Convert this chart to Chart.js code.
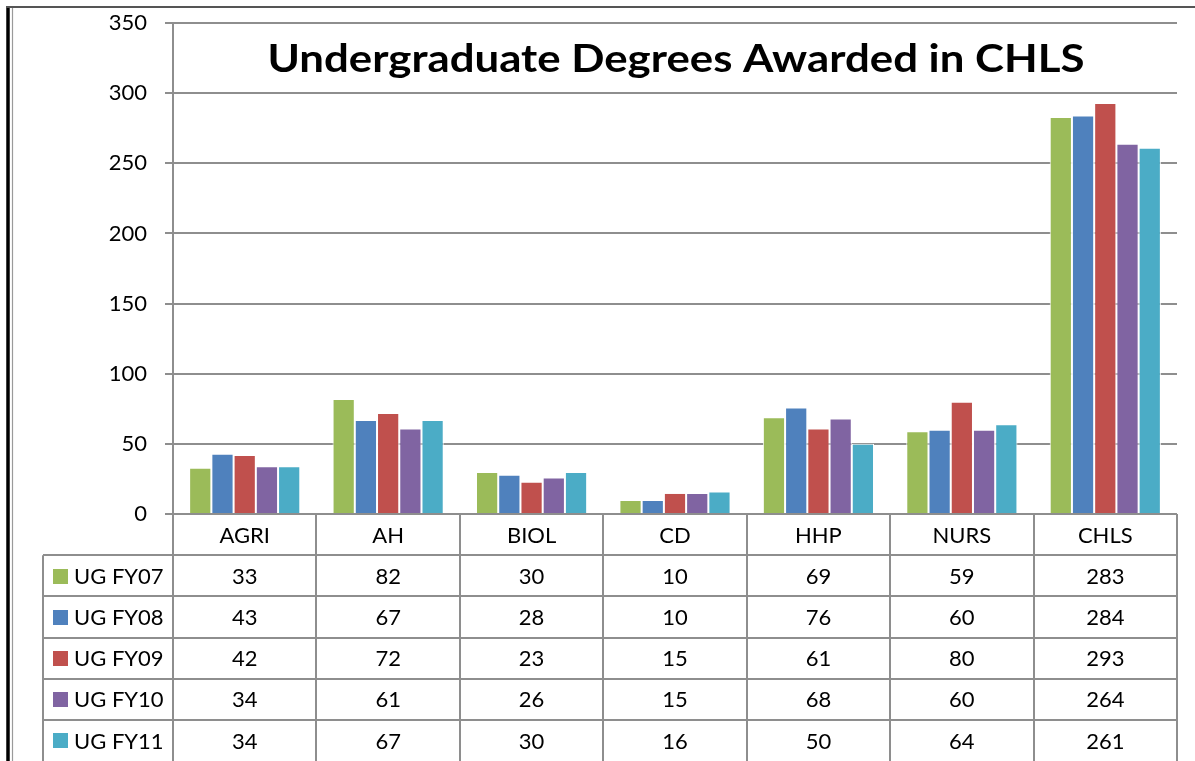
<!DOCTYPE html>
<html>
<head>
<meta charset="utf-8">
<script src="https://cdn.jsdelivr.net/npm/chart.js@4/dist/chart.umd.min.js"></script>
<style>
  html, body { margin: 0; padding: 0; background: #ffffff; }
  #wrap { width: 1195px; height: 761px; position: relative; }
  canvas { display: block; }
</style>
</head>
<body>
<div id="wrap"><canvas id="c" width="1195" height="761"></canvas></div>
<script>
const chartTitle = "Undergraduate Degrees Awarded in CHLS";
const categories = ["AGRI", "AH", "BIOL", "CD", "HHP", "NURS", "CHLS"];
const seriesNames = ["UG FY07", "UG FY08", "UG FY09", "UG FY10", "UG FY11"];
const fy07 = [33, 82, 30, 10, 69, 59, 283];
const fy08 = [43, 67, 28, 10, 76, 60, 284];
const fy09 = [42, 72, 23, 15, 61, 80, 293];
const fy10 = [34, 61, 26, 15, 68, 60, 264];
const fy11 = [34, 67, 30, 16, 50, 64, 261];
const seriesValues = [fy07, fy08, fy09, fy10, fy11];
const seriesColors = ["#9BBB59", "#4F81BD", "#C0504D", "#8064A2", "#4BACC6"];
const yMin = 0, yMax = 350, yStep = 50;

const FONT = "Lato, 'Open Sans', sans-serif";
const TITLE_FONT = "bold 39px Lato, 'Open Sans', sans-serif";
const TITLE_WIDTH = 817;
const GRID = "#8e8e8e";

const framePlugin = {
  id: 'frame',
  beforeDraw(chart) {
    const ctx = chart.ctx;
    ctx.save();
    ctx.fillStyle = '#ffffff';
    ctx.fillRect(0, 0, chart.width, chart.height);
    ctx.restore();
  },
  afterDraw(chart) {
    const ctx = chart.ctx;
    const ca = chart.chartArea;
    const xs = chart.scales.x;
    const H = chart.height;
    ctx.save();
    // outer frame
    ctx.strokeStyle = '#000000';
    ctx.lineWidth = 3.5;
    ctx.beginPath(); ctx.moveTo(8, 6); ctx.lineTo(8, H); ctx.stroke();
    ctx.strokeStyle = '#9a9a9a';
    ctx.lineWidth = 1.2;
    ctx.beginPath(); ctx.moveTo(12.5, 8); ctx.lineTo(12.5, H); ctx.stroke();
    ctx.strokeStyle = '#555555';
    ctx.lineWidth = 2;
    ctx.beginPath(); ctx.moveTo(6, 7); ctx.lineTo(chart.width, 7); ctx.stroke();

    // title (horizontally stretched like the reference)
    ctx.save();
    ctx.fillStyle = '#000000';
    ctx.font = TITLE_FONT;
    ctx.textAlign = 'center';
    ctx.textBaseline = 'alphabetic';
    const tw = ctx.measureText(chartTitle).width;
    const sx = TITLE_WIDTH / tw;
    ctx.translate((ca.left + ca.right) / 2 + 1, 72);
    ctx.scale(sx, 1);
    ctx.fillText(chartTitle, 0, 0);
    ctx.restore();

    // data table
    const n = categories.length;
    const catW = (ca.right - ca.left) / n;
    const rowH = (H - ca.bottom) / (seriesNames.length + 1);
    const legLeft = 43;
    ctx.strokeStyle = GRID;
    ctx.lineWidth = 2;
    for (let r = 1; r <= seriesNames.length; r++) {
      const y = Math.round(ca.bottom + r * rowH);
      ctx.beginPath(); ctx.moveTo(legLeft, y); ctx.lineTo(ca.right, y); ctx.stroke();
    }
    for (let i = 0; i <= n; i++) {
      const x = Math.round(xs.getPixelForValue(0) - catW / 2 + i * catW);
      ctx.beginPath(); ctx.moveTo(x, ca.bottom); ctx.lineTo(x, H); ctx.stroke();
    }
    ctx.beginPath(); ctx.moveTo(legLeft, ca.bottom + rowH); ctx.lineTo(legLeft, H); ctx.stroke();

    ctx.font = "22px " + FONT;
    ctx.fillStyle = '#000000';
    ctx.textAlign = 'center';
    ctx.textBaseline = 'middle';
    categories.forEach((c, i) => {
      ctx.fillText(c, xs.getPixelForValue(i), ca.bottom + rowH / 2 + 1);
    });
    seriesNames.forEach((s, r) => {
      const cy = ca.bottom + (r + 1.5) * rowH + 1;
      ctx.fillStyle = seriesColors[r];
      ctx.fillRect(53, Math.round(cy - 8), 15, 15);
      ctx.fillStyle = '#000000';
      ctx.textAlign = 'left';
      ctx.fillText(s, 74, cy);
      ctx.textAlign = 'center';
      seriesValues[r].forEach((v, i) => {
        ctx.fillText(String(v), xs.getPixelForValue(i), cy);
      });
    });
    ctx.restore();
  }
};

new Chart(document.getElementById('c'), {
  type: 'bar',
  data: {
    labels: categories,
    datasets: seriesNames.map((name, i) => ({
      label: name,
      data: seriesValues[i],
      backgroundColor: seriesColors[i],
      borderColor: '#ffffff',
      borderWidth: 1,
      categoryPercentage: 0.775,
      barPercentage: 1.0
    }))
  },
  options: {
    responsive: false,
    animation: false,
    devicePixelRatio: 1,
    layout: { padding: { left: 0, top: 23, right: 18, bottom: 247 } },
    plugins: { legend: { display: false }, title: { display: false }, tooltip: { enabled: false } },
    scales: {
      x: {
        grid: { display: false, drawTicks: false },
        border: { display: false },
        ticks: { display: false },
        afterFit(scale) { scale.height = 0; }
      },
      y: {
        min: yMin, max: yMax,
        ticks: {
          stepSize: yStep,
          color: '#000000',
          font: { family: FONT, size: 22 },
          padding: 18
        },
        grid: { color: GRID, lineWidth: 2, tickLength: 8 },
        border: { color: GRID, width: 2 },
        afterFit(scale) {
          scale.width = 173;
          scale.paddingTop = 0;
          scale.paddingBottom = 0;
        }
      }
    }
  },
  plugins: [framePlugin]
});
</script>
</body>
</html>
